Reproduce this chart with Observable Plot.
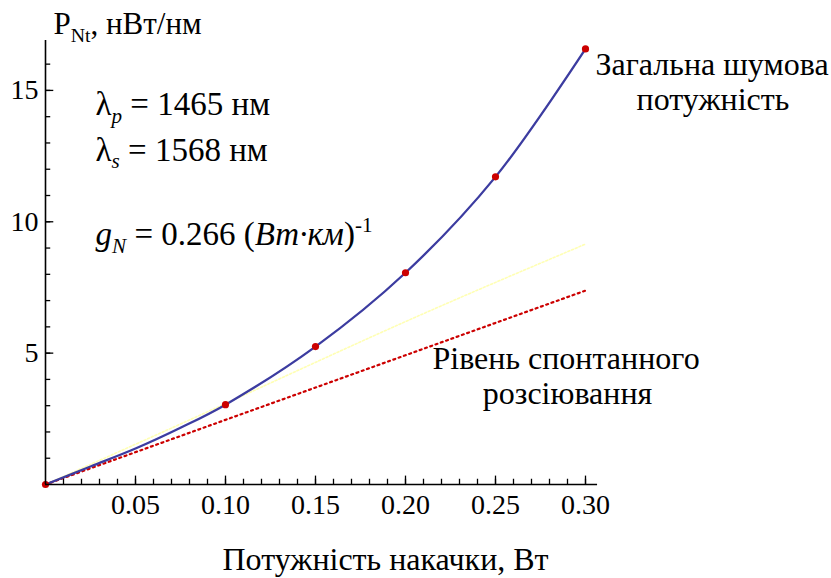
<!DOCTYPE html>
<html><head><meta charset="utf-8">
<script src="https://cdn.jsdelivr.net/npm/d3@7"></script>
<script src="https://cdn.jsdelivr.net/npm/@observablehq/plot@0.6"></script>
<style>
body{margin:0;background:#fff}
</style>
</head><body><div id="chart"></div>
<script>
// ---- data ----
const pumpPower   = [0, 0.025, 0.05, 0.075, 0.10, 0.15, 0.20, 0.25, 0.30];
const totalNoise  = [0, 0.685, 1.37, 2.16, 3.04, 5.25, 8.06, 11.71, 16.58];
const markerPower = [0, 0.10, 0.15, 0.20, 0.25, 0.30];
const markerNoise = [0, 3.04, 5.25, 8.06, 11.71, 16.58];
const spontPower  = [0, 0.10, 0.20, 0.30];
const spontNoise  = [0, 2.46, 4.92, 7.38];
const tangentPower = [0, 0.10, 0.20, 0.30];
const tangentNoise = [0, 3.08, 6.20, 9.15];
const xTickValues = [0.05, 0.10, 0.15, 0.20, 0.25, 0.30];
const xTickLabels = ["0.05", "0.10", "0.15", "0.20", "0.25", "0.30"];
const yTickValues = [5, 10, 15];
const yTickLabels = ["5", "10", "15"];
const xMinorTicks = d3.range(1, 31).map(i => i / 100);
const yMinorTicks = d3.range(1, 17);
const xTitle = "Потужність накачки, Вт";
const yTitleSegs = [{t: "P"}, {t: "Nt", sub: true}, {t: ", нВт/нм"}];
const lambdaPSegs = [{t: "λ"}, {t: "p", sub: true, it: true}, {t: " = 1465 нм"}];
const lambdaSSegs = [{t: "λ"}, {t: "s", sub: true, it: true}, {t: " = 1568 нм"}];
const gainSegs = [{t: "g", it: true}, {t: "N", sub: true, it: true}, {t: " = 0.266 ("}, {t: "Вт·км", it: true}, {t: ")"}, {t: "-1", sup: true}];
const totalLabel = ["Загальна шумова", "потужність"];
const spontLabel = ["Рівень спонтанного", "розсіювання"];

const total = pumpPower.map((x, i) => ({x, y: totalNoise[i]}));
const markers = markerPower.map((x, i) => ({x, y: markerNoise[i]}));
const spont = spontPower.map((x, i) => ({x, y: spontNoise[i]}));
const tangent = tangentPower.map((x, i) => ({x, y: tangentNoise[i]}));
const xTicks = xTickValues.map((x, i) => ({x, label: xTickLabels[i]}));
const yTicks = yTickValues.map((y, i) => ({y, label: yTickLabels[i]}));
const joined = segs => segs.map(s => s.t).join("");
const FF = "Liberation Serif, Tinos, Times New Roman, DejaVu Serif, Noto Serif, serif";

const plot = Plot.plot({
  width: 831, height: 577,
  marginLeft: 45, marginRight: 246, marginTop: 40, marginBottom: 93,
  x: {domain: [0, 0.3], axis: null},
  y: {domain: [0, 16.9], axis: null},
  marks: [
    Plot.line(tangent, {x: "x", y: "y", stroke: "#ffffb4", strokeWidth: 1.6, strokeDasharray: "2,2", curve: "natural"}),
    Plot.line(spont, {x: "x", y: "y", stroke: "#cc0000", strokeWidth: 2.2, strokeDasharray: "2,3.6"}),
    Plot.line(total, {x: "x", y: "y", stroke: "#3c3ca0", strokeWidth: 2.3, curve: "catmull-rom"}),
    Plot.dot(markers, {x: "x", y: "y", fill: "#cc0000", r: 3.6}),
    // axes
    Plot.ruleX([0], {y1: 0, y2: 16.9, stroke: "#000", strokeWidth: 1.6}),
    Plot.ruleY([0], {x1: 0, x2: 0.3067, stroke: "#000", strokeWidth: 1.6}),
    Plot.ruleX(xMinorTicks, {x: d => d, y1: 0, y2: 0.2, stroke: "#000", strokeWidth: 1.3}),
    Plot.ruleX(xTickValues, {x: d => d, y1: 0, y2: 0.32, stroke: "#000", strokeWidth: 1.3}),
    Plot.ruleY(yMinorTicks, {y: d => d, x1: 0, x2: 0.0029, stroke: "#000", strokeWidth: 1.3}),
    Plot.ruleY(yTickValues, {y: d => d, x1: 0, x2: 0.0046, stroke: "#000", strokeWidth: 1.3}),
    Plot.text(xTicks, {x: "x", y: 0, text: "label", dy: 29, lineAnchor: "bottom", textAnchor: "middle", fontSize: 28, fontFamily: FF, fill: "#000"}),
    Plot.text(yTicks, {x: 0, y: "y", text: "label", dx: -7, textAnchor: "end", fontSize: 28, fontFamily: FF, fill: "#000"}),
    Plot.text([xTitle], {x: 0.1889, y: -3.27, text: d => d, lineAnchor: "bottom", textAnchor: "middle", fontSize: 32, fontFamily: FF, fill: "#000"}),
    Plot.text([joined(yTitleSegs)], {x: 0.0044, y: 17.13, text: d => d, lineAnchor: "bottom", textAnchor: "start", fontSize: 31, fontFamily: FF, fill: "#000"}),
    Plot.text([joined(lambdaPSegs)], {x: 0.0278, y: 14.08, text: d => d, lineAnchor: "bottom", textAnchor: "start", fontSize: 33, fontFamily: FF, fill: "#000"}),
    Plot.text([joined(lambdaSSegs)], {x: 0.0278, y: 12.33, text: d => d, lineAnchor: "bottom", textAnchor: "start", fontSize: 33, fontFamily: FF, fill: "#000"}),
    Plot.text([joined(gainSegs)], {x: 0.0278, y: 9.10, text: d => d, lineAnchor: "bottom", textAnchor: "start", fontSize: 33, fontFamily: FF, fill: "#000"}),
    Plot.text([totalLabel[0]], {x: 0.3703, y: 15.57, text: d => d, lineAnchor: "bottom", textAnchor: "middle", fontSize: 32, fontFamily: FF, fill: "#000"}),
    Plot.text([totalLabel[1]], {x: 0.3708, y: 14.24, text: d => d, lineAnchor: "bottom", textAnchor: "middle", fontSize: 32, fontFamily: FF, fill: "#000"}),
    Plot.text([spontLabel[0]], {x: 0.2892, y: 4.38, text: d => d, lineAnchor: "bottom", textAnchor: "middle", fontSize: 32, fontFamily: FF, fill: "#000"}),
    Plot.text([spontLabel[1]], {x: 0.2900, y: 3.08, text: d => d, lineAnchor: "bottom", textAnchor: "middle", fontSize: 32, fontFamily: FF, fill: "#000"})
  ]
});

function richify(svg, segs, fs) {
  const plain = joined(segs);
  d3.select(svg).selectAll("text").filter(function () { return this.textContent === plain; }).each(function () {
    const el = d3.select(this);
    el.text(null);
    let shift = 0;
    for (const s of segs) {
      const ts = el.append("tspan").text(s.t);
      const target = s.sub ? fs * 0.24 : s.sup ? -fs * 0.42 : 0;
      if (target !== shift) { ts.attr("dy", target - shift); shift = target; }
      if (s.sub || s.sup) ts.attr("font-size", fs * 0.64);
      if (s.it) ts.attr("font-style", "italic");
    }
  });
}
richify(plot, yTitleSegs, 31);
richify(plot, lambdaPSegs, 33);
richify(plot, lambdaSSegs, 33);
richify(plot, gainSegs, 33);

document.getElementById("chart").appendChild(plot);
</script>
</body></html>
